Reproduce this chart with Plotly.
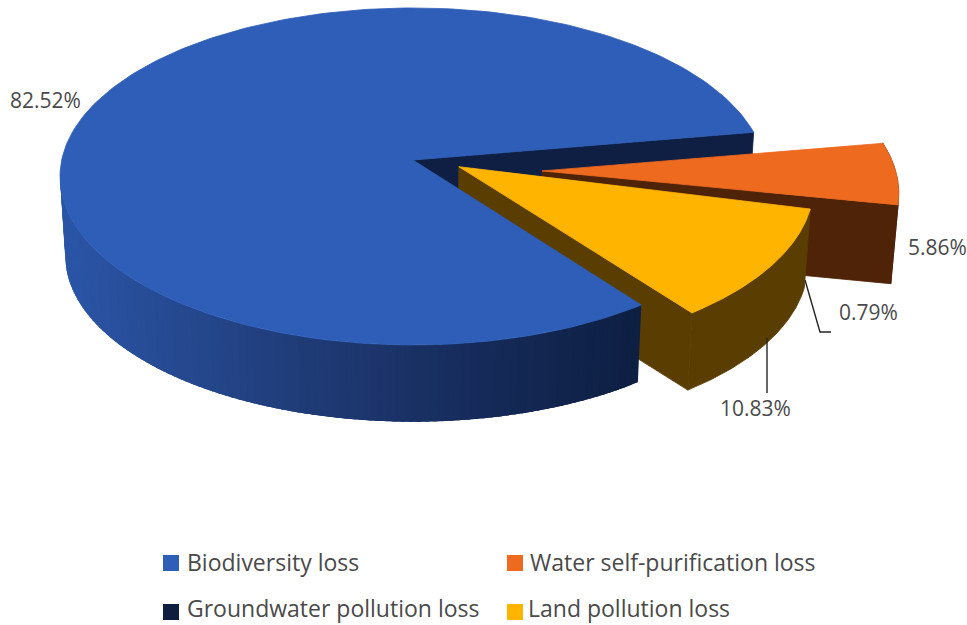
import numpy as np
import plotly.graph_objects as go

# Chart data
categories = ["Biodiversity loss", "Water self-purification loss",
              "Groundwater pollution loss", "Land pollution loss"]
shares = [82.52, 5.86, 0.79, 10.83]

# Face colours, wall colours and exploded offsets per slice (unit-disc coordinates)
top_colors = ["#2e5eb7", "#ee6a1f", "#0f1d3e", "#ffb400"]
wall_colors = ["#0f1f44", "#4f2308", "#0b1530", "#5a3d00"]
explode_u = [0.0, 0.365, 0.11, 0.13]
explode_v = [0.0, 0.065, 0.095, 0.04]

# Perspective camera for the disc
CX, CY, RX, RY, PERSP = 413.0, 160.0, 351.3, 166.9, 0.0977
HEIGHT, SHRINK = 79.5, 0.015
START_DEG = 53.2


def project(u, v, z=0.0):
    u, v = np.asarray(u, float), np.asarray(v, float)
    w = 1 - PERSP * v
    s = 1 - SHRINK * z
    return CX + RX * u / w * s, CY + RY * v / w * s + HEIGHT * z


def slice_angles():
    edges = START_DEG + np.cumsum([0] + shares) * 3.6
    return edges[:-1], edges[1:]


def poly(fig, x, y, color, name=None, edge=0.8):
    fig.add_trace(go.Scatter(
        x=list(x) + [x[0]], y=list(y) + [y[0]], mode="lines", fill="toself",
        fillcolor=color, line=dict(color=color, width=edge),
        hoverinfo="skip", showlegend=False, name=name))


def rim(a0, a1, i, n=80):
    t = np.radians(np.linspace(a0, a1, n))
    return explode_u[i] + np.cos(t), explode_v[i] + np.sin(t)


def draw_top(fig, i, a0, a1):
    u, v = rim(a0, a1, i, 240)
    u = np.r_[explode_u[i], u]
    v = np.r_[explode_v[i], v]
    x, y = project(u, v)
    poly(fig, x, y, top_colors[i], categories[i])


def draw_cut_face(fig, i, angle, color):
    t = np.radians(angle)
    u = np.array([explode_u[i], explode_u[i] + np.cos(t)])
    v = np.array([explode_v[i], explode_v[i] + np.sin(t)])
    x0, y0 = project(u, v, 0)
    x1, y1 = project(u, v, 1)
    poly(fig, np.r_[x0, x1[::-1]], np.r_[y0, y1[::-1]], color)


def draw_outer(fig, i, a0, a1, color, n=80, edge=0.8):
    u, v = rim(a0, a1, i, n)
    x0, y0 = project(u, v, 0)
    x1, y1 = project(u, v, 1)
    poly(fig, np.r_[x0, x1[::-1]], np.r_[y0, y1[::-1]], color, edge=edge)


# Side shading of the large slice, from the left edge to the right edge
shade_x = [60, 300, 470, 640]
shade_rgb = np.array([[43, 86, 168], [32, 60, 120], [23, 44, 92], [13, 31, 66]], float)


def shade(x):
    c = [np.interp(x, shade_x, shade_rgb[:, k]) for k in range(3)]
    return "rgb(%d,%d,%d)" % tuple(c)


fig = go.Figure()
starts, ends = slice_angles()

# Paint back to front
draw_cut_face(fig, 0, ends[0], wall_colors[0])

draw_outer(fig, 1, starts[1], ends[1], wall_colors[1])
draw_cut_face(fig, 1, ends[1], wall_colors[1])
draw_top(fig, 1, starts[1], ends[1])

draw_outer(fig, 2, starts[2], ends[2], wall_colors[2])
draw_top(fig, 2, starts[2], ends[2])

draw_cut_face(fig, 3, ends[3], wall_colors[3])
draw_outer(fig, 3, starts[3], ends[3], wall_colors[3])
draw_top(fig, 3, starts[3], ends[3])

# Overlapping strips, painted right to left, keep the shading free of seams
strip_edges = np.linspace(starts[0], 176.0, 101)
step = strip_edges[1] - strip_edges[0]
for a0 in strip_edges[:-1]:
    mid = np.radians(a0 + step / 2)
    mid_x = project(np.cos(mid), np.sin(mid))[0]
    a1 = min(a0 + 2.5 * step, 176.0)
    draw_outer(fig, 0, a1, a0, shade(float(mid_x)), n=5, edge=0)
draw_top(fig, 0, starts[0], ends[0])

# Leader lines to the two small labels
leaders = [([805, 820, 831], [280, 332, 332]), ([767, 767], [338, 393])]
for lx, ly in leaders:
    fig.add_trace(go.Scatter(x=lx, y=ly, mode="lines", hoverinfo="skip", showlegend=False,
                             line=dict(color="#262626", width=1.4)))

FONT = "Open Sans"
TEXT = "#4a4a4a"

# Percentage labels
label_x = [45, 937, 868, 755]
label_y = [100, 247, 312, 408]
for s, lx, ly in zip(shares, label_x, label_y):
    fig.add_annotation(x=lx, y=ly, text=f"{s:.2f}%", showarrow=False,
                       font=dict(family=FONT, size=21, color=TEXT))

# Legend keys and names
key_x = [171, 515, 171, 515]
key_y = [563, 563, 612, 612]
name_x = [185, 528, 185, 526]
name_y = [562, 562, 608, 608]
for i, cat in enumerate(categories):
    fig.add_trace(go.Scatter(x=[key_x[i]], y=[key_y[i]], mode="markers", name=cat,
                             hoverinfo="name", showlegend=False,
                             marker=dict(symbol="square", size=16, color=top_colors[i])))
    fig.add_annotation(x=name_x[i], y=name_y[i], text=cat, showarrow=False, xanchor="left",
                       font=dict(family=FONT, size=23, color=TEXT))

fig.update_layout(
    width=967, height=625, margin=dict(l=0, r=0, t=0, b=0),
    paper_bgcolor="white", plot_bgcolor="white", showlegend=False,
    xaxis=dict(range=[0, 967], visible=False, fixedrange=True),
    yaxis=dict(range=[625, 0], visible=False, fixedrange=True),
)
fig.write_html("out.html", config={"displayModeBar": False})
